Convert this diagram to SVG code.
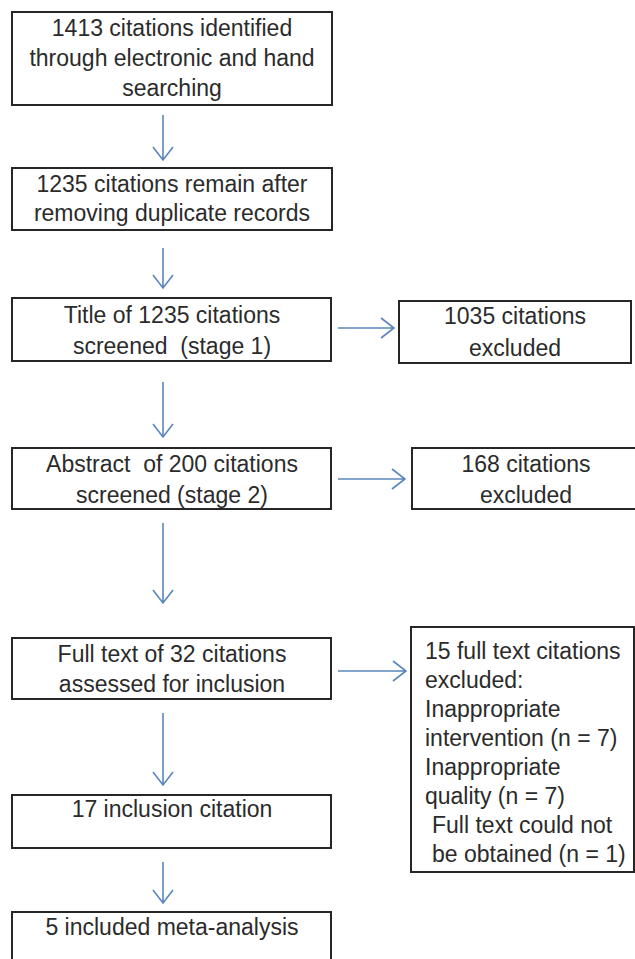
<svg xmlns="http://www.w3.org/2000/svg" width="635" height="959" viewBox="0 0 635 959">
<style>
.box{fill:#fff;stroke:#262626;stroke-width:2}
.t{font-family:"Liberation Sans",Arial,sans-serif;font-size:23px;fill:#2b2b2b}
.c{text-anchor:middle}
.ar{fill:none;stroke:#5b86bd;stroke-width:1.6}
</style>
<rect width="635" height="959" fill="#fff"/>
<g id="connectors" class="ar">
<path d="M163 115V160M153 147L163 160L173 147"/>
<path d="M163 248V288M153 275L163 288L173 275"/>
<path d="M163 382V437M153 424L163 437L173 424"/>
<path d="M163 523V603M153 590L163 603L173 590"/>
<path d="M163 713V785M153 772L163 785L173 772"/>
<path d="M163 862V903M153 890L163 903L173 890"/>
<path d="M338 328H394M381 318L394 328L381 338"/>
<path d="M338 479H405M392 469L405 479L392 489"/>
<path d="M338 671H406M393 661L406 671L393 681"/>
</g>
<g id="n1"><rect class="box" x="12" y="12" width="320" height="93"/>
<text class="t c" x="172" y="36">1413 citations identified</text>
<text class="t c" x="172" y="66">through electronic and hand</text>
<text class="t c" x="172" y="96">searching</text></g>
<g id="n2"><rect class="box" x="12" y="168" width="320" height="62"/>
<text class="t c" x="172" y="192">1235 citations remain after</text>
<text class="t c" x="172" y="221">removing duplicate records</text></g>
<g id="n3"><rect class="box" x="12" y="298" width="319" height="63"/>
<text class="t c" x="172" y="323">Title of 1235 citations</text>
<text class="t c" x="172" y="354" xml:space="preserve">screened  (stage 1)</text></g>
<g id="n4"><rect class="box" x="399" y="301" width="232" height="62"/>
<text class="t c" x="515" y="324">1035 citations</text>
<text class="t c" x="515" y="356">excluded</text></g>
<g id="n5"><rect class="box" x="12" y="448" width="319" height="61"/>
<text class="t c" x="172" y="472" xml:space="preserve">Abstract  of 200 citations</text>
<text class="t c" x="172" y="503">screened (stage 2)</text></g>
<g id="n6"><rect class="box" x="412" y="448" width="240" height="61"/>
<text class="t c" x="526" y="472">168 citations</text>
<text class="t c" x="526" y="503">excluded</text></g>
<g id="n7"><rect class="box" x="12" y="638" width="319" height="61"/>
<text class="t c" x="172" y="662">Full text of 32 citations</text>
<text class="t c" x="172" y="692">assessed for inclusion</text></g>
<g id="n8"><rect class="box" x="411" y="627" width="223" height="245"/>
<text class="t" x="425" y="659">15 full text citations</text>
<text class="t" x="425" y="688">excluded:</text>
<text class="t" x="425" y="717">Inappropriate</text>
<text class="t" x="425" y="746">intervention (n = 7)</text>
<text class="t" x="425" y="775">Inappropriate</text>
<text class="t" x="425" y="804">quality (n = 7)</text>
<text class="t" x="432" y="833">Full text could not</text>
<text class="t" x="432" y="862">be obtained (n = 1)</text></g>
<g id="n9"><rect class="box" x="12" y="795" width="319" height="53"/>
<text class="t c" x="172" y="817">17 inclusion citation</text></g>
<g id="n10"><rect class="box" x="12" y="912" width="319" height="70"/>
<text class="t c" x="172" y="935">5 included meta-analysis</text></g>
</svg>
